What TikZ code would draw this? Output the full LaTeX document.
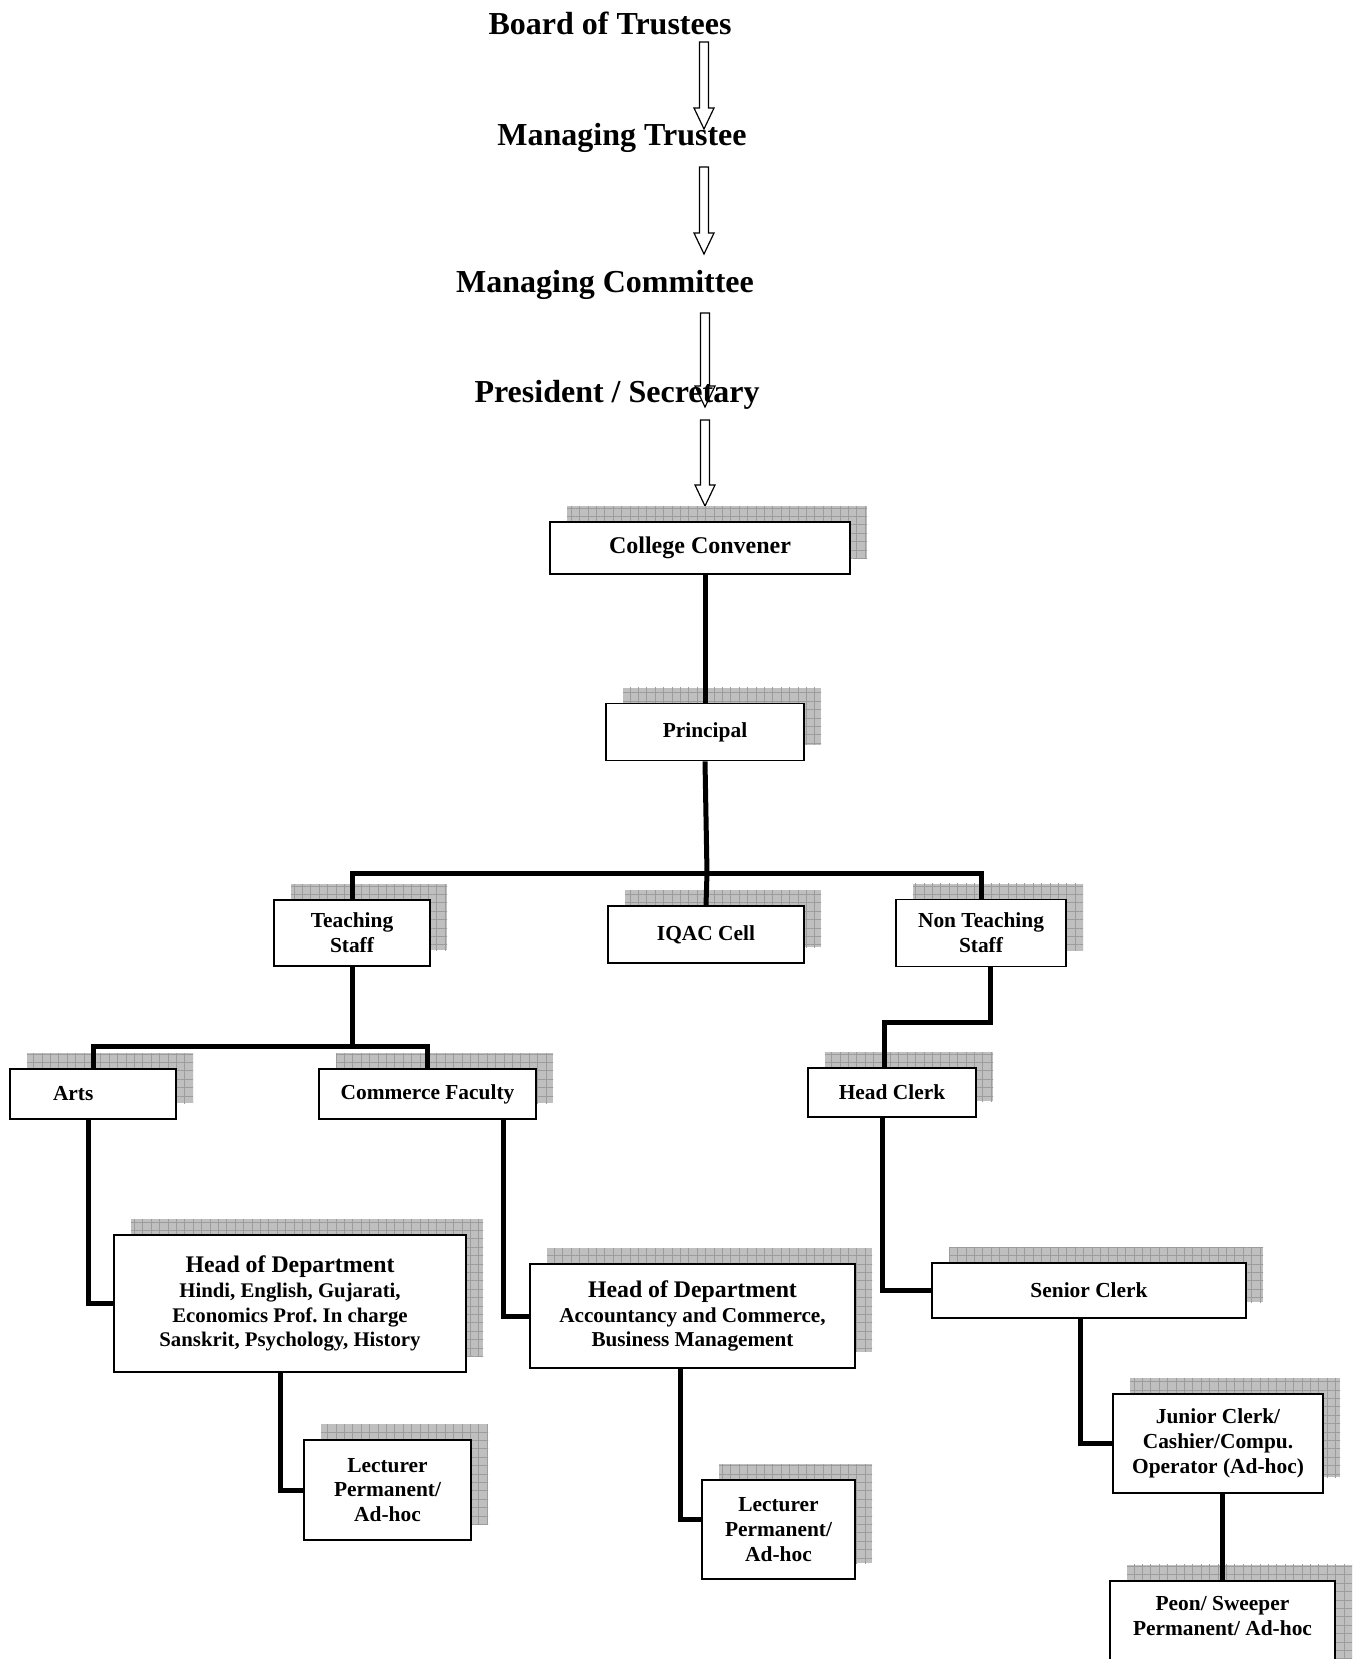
\documentclass[tikz,border=0pt]{standalone}
\usepackage{fontspec}
\setmainfont{Liberation Serif}
\usetikzlibrary{calc,shadows,patterns.meta}

% hollow block arrow between two coordinates
\newcommand\hollowdown[2]{%
  \draw[line width=0.6pt] ($(#1)+(-4.5,0)$) -- ($(#2)+(-4.5,-21)$) -- ($(#2)+(-10,-21)$) -- (#2)
    -- ($(#2)+(10,-21)$) -- ($(#2)+(4.5,-21)$) -- ($(#1)+(4.5,0)$) -- cycle;}

\newcommand\boxfont{\bfseries\fontsize{10.7}{12.4}\selectfont}
\newcommand\hodfont{\fontsize{11.9}{12.7}\selectfont}
\newcommand\subfont{\fontsize{10.4}{12.7}\selectfont}
\newcommand\subfontc{\fontsize{10.6}{12.7}\selectfont}

\tikzset{
  post/.style={draw, line width=0.9pt, fill=white, inner sep=0pt, align=center,
    font=\boxfont,
    general shadow={shadow xshift=8.5pt, shadow yshift=8pt, fill=gray!50,
      postaction={pattern={Hatch[distance=4.2pt,angle=0,line width=0.5pt]}, pattern color=gray!78}}},
  link/.style={line width=2.5pt},
  head/.style={font=\bfseries\fontsize{16}{19}\selectfont},
}

\begin{document}
\begin{tikzpicture}[x=0.5pt, y=-0.5pt]
	\useasboundingbox (0,0) rectangle (1356,1659);
	
	% governing body
	\draw node[head] at (610,23) (board) {Board of Trustees};
	\draw node[head] at (622,138) (mtrustee) {Managing Trustee};
	\draw node[head] at (605,285) (mcomm) {Managing Committee};
	\draw node[head] at (617,395) (pres) {President / Secretary};
	
	\coordinate (a1top) at (704,42);  \coordinate (a1tip) at (704,129);
	\coordinate (a2top) at (704,167); \coordinate (a2tip) at (704,254);
	\coordinate (a3top) at (705,313); \coordinate (a3tip) at (705,407);
	\coordinate (a4top) at (705,420); \coordinate (a4tip) at (705,506);
	\hollowdown{a1top}{a1tip}
	\hollowdown{a2top}{a2tip}
	\hollowdown{a3top}{a3tip}
	\hollowdown{a4top}{a4tip}
	
	% college
	\draw node[post, minimum width=150pt, minimum height=26pt, font=\bfseries\fontsize{12}{13}\selectfont] at (700,548) (conv) {College Convener};
	\draw node[post, minimum width=99pt, minimum height=28.5pt] at (705,732) (princ) {Principal};
	\draw node[post, minimum width=78pt, minimum height=33pt] at (352,933) (teach) {Teaching\\ Staff};
	\draw node[post, minimum width=98pt, minimum height=28.5pt] at (706,934.5) (iqac) {IQAC Cell};
	\draw node[post, minimum width=85pt, minimum height=33.5pt] at (981,933) (nonteach) {Non Teaching\\ Staff};
	
	\draw node[post, minimum width=83pt, minimum height=25pt, text width=40pt, align=left] at (93,1094) (arts) {Arts};
	\draw node[post, minimum width=108.5pt, minimum height=25pt] at (427.5,1094) (comm) {Commerce Faculty};
	\draw node[post, minimum width=84pt, minimum height=24.5pt] at (892,1092.5) (hclerk) {Head Clerk};
	
	\draw node[post, minimum width=176pt, minimum height=68.5pt] at (290,1303.5) (hodA)
		{\hodfont Head of Department\\ \subfont Hindi, English, Gujarati,\\ \subfont Economics Prof.\ In charge\\ \subfont Sanskrit, Psychology, History};
	\draw node[post, minimum width=162.5pt, minimum height=52pt] at (692.5,1316) (hodC)
		{\hodfont Head of Department\\ \subfontc Accountancy and Commerce,\\ \subfontc Business Management};
	\draw node[post, minimum width=157pt, minimum height=27.5pt] at (1089,1290.5) (sclerk) {Senior Clerk};
	
	\draw node[post, minimum width=83.5pt, minimum height=50pt] at (387.5,1490) (lectA) {Lecturer\\ Permanent/\\ Ad-hoc};
	\draw node[post, minimum width=76.5pt, minimum height=49.5pt] at (778.5,1529.5) (lectC) {Lecturer\\ Permanent/\\ Ad-hoc};
	\draw node[post, minimum width=105pt, minimum height=49.5pt] at (1218,1443.5) (junior) {Junior Clerk/\\ Cashier/Compu.\\ Operator (Ad-hoc)};
	\draw node[post, minimum width=112.5pt, minimum height=60pt, anchor=north,
		label={[name=peontext, anchor=north, inner sep=0pt, yshift=-8pt, align=center,
			font=\boxfont]north:Peon/ Sweeper\\ Permanent/ Ad-hoc}]
		at (1222.5,1580) (peon) {};
	
	% connectors
	\draw [link] (princ.north) -- (princ.north |- conv.south);
	\coordinate (staffbus) at (707,873);
	\draw [link] (princ.south) -- (staffbus);
	\draw [link] (teach.north) |- (staffbus) -| (nonteach.north);
	\draw [link] (staffbus) -- (iqac.north);
	
	\draw [link] (teach.south) -- ++(0,80) coordinate (facbus);
	\draw [link] (arts.north) |- (facbus) -| (comm.north);
	\draw [link] ([xshift=4.5pt]nonteach.south) -- ++(0,55) -| ([xshift=-4pt]hclerk.north);
	
	\draw [link] ([xshift=-2.5pt]arts.south) |- (hodA.west);
	\draw [link] ([xshift=37.75pt]comm.south) |- (hodC.west);
	\draw [link] ([xshift=-5pt]hclerk.south) |- (sclerk.west);
	\draw [link] ([xshift=-5pt]hodA.south) |- (lectA.west);
	\draw [link] ([xshift=-6.25pt]hodC.south) |- ([yshift=5pt]lectC.west);
	\draw [link] ([xshift=-4.5pt]sclerk.south) |- (junior.west);
	\draw [link] (peon.north) -- (peon.north |- junior.south);
\end{tikzpicture}
\end{document}
